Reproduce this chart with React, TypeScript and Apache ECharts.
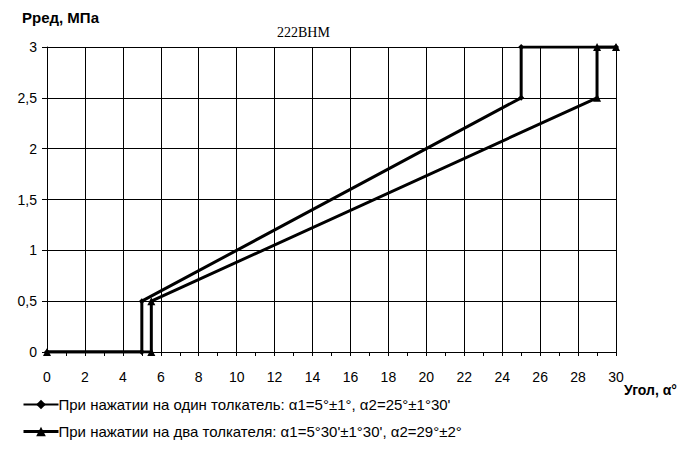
import React, { useEffect, useRef } from "react";
import * as echarts from "echarts";

const titleText = "222ВНМ";
const yAxisName = "Рред, МПа";
const xAxisName = "Угол, α°";
const seriesNames = [
  "При нажатии на один толкатель: α1=5°±1°, α2=25°±1°30'",
  "При нажатии на два толкателя: α1=5°30'±1°30', α2=29°±2°",
];
const series1X = [0, 5, 5, 25, 25, 30];
const series1Y = [0, 0, 0.5, 2.5, 3, 3];
const series2X = [0, 5.5, 5.5, 29, 29, 30];
const series2Y = [0, 0, 0.5, 2.5, 3, 3];

const font = "'Liberation Sans', Arial, sans-serif";

export default function App() {
  const ref = useRef<HTMLDivElement>(null);
  useEffect(() => {
    const chart = echarts.init(ref.current!, null, { renderer: "svg" });
    const d1 = series1X.map((x, i) => [x, series1Y[i]]);
    const d2 = series2X.map((x, i) => [x, series2Y[i]]);
    chart.setOption({
      animation: false,
      backgroundColor: "#fff",
      textStyle: { fontFamily: font },
      grid: { left: 47, right: 76, top: 47, bottom: 98 },
      graphic: [
        {
          type: "text",
          left: 22,
          top: 10,
          style: { text: yAxisName, font: `bold 15px ${font}`, fill: "#000" },
        },
        {
          type: "text",
          left: 277,
          top: 25,
          style: { text: titleText, font: "14px 'Liberation Serif', 'Times New Roman', serif", fill: "#000" },
        },
        {
          type: "text",
          left: 624,
          top: 383,
          style: { text: xAxisName, font: `bold 14px ${font}`, fill: "#000" },
        },
      ],
      legend: {
        orient: "vertical",
        left: 17,
        top: 392,
        itemGap: 12,
        itemWidth: 35,
        itemHeight: 12,
        textStyle: { fontFamily: font, fontSize: 15, color: "#000", padding: [0, 0, 0, -5] },
        data: [
          { name: seriesNames[0], lineStyle: { width: 2 } },
          { name: seriesNames[1], lineStyle: { width: 3 } },
        ],
      },
      xAxis: {
        type: "value",
        min: 0,
        max: 30,
        interval: 2,
        axisLine: { show: true, lineStyle: { color: "#000", width: 1 } },
        axisTick: { show: true, length: 4, lineStyle: { color: "#000" } },
        minorTick: { show: true, splitNumber: 2, length: 4, lineStyle: { color: "#000" } },
        axisLabel: { color: "#000", fontSize: 14, margin: 18, fontFamily: font },
        splitLine: { show: true, lineStyle: { color: "#000", width: 1 } },
      },
      yAxis: {
        type: "value",
        min: 0,
        max: 3,
        interval: 0.5,
        axisLine: { show: true, lineStyle: { color: "#000", width: 1 } },
        axisTick: { show: true, length: 5, lineStyle: { color: "#000" } },
        axisLabel: {
          color: "#000",
          fontSize: 14,
          margin: 10,
          fontFamily: font,
          formatter: (v: number) => String(v).replace(".", ","),
        },
        splitLine: { show: true, lineStyle: { color: "#000", width: 1 } },
      },
      series: [
        {
          name: seriesNames[0],
          type: "line",
          data: d1,
          symbol: "diamond",
          symbolSize: 6,
          lineStyle: { color: "#000", width: 3 },
          itemStyle: { color: "#000" },
        },
        {
          name: seriesNames[1],
          type: "line",
          data: d2,
          symbol: "triangle",
          symbolSize: 8,
          lineStyle: { color: "#000", width: 3 },
          itemStyle: { color: "#000" },
        },
      ],
    });
    return () => chart.dispose();
  }, []);
  return <div ref={ref} style={{ width: 692, height: 450, position: "absolute", left: 0, top: 0 }} />;
}
